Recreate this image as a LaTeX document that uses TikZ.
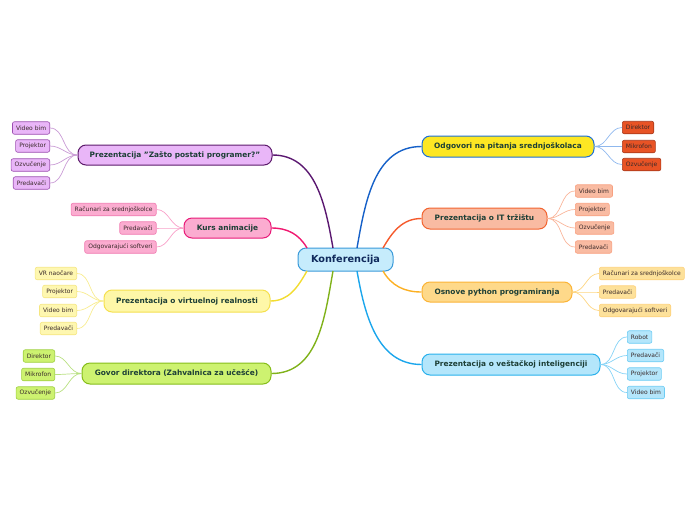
\documentclass[tikz,border=0pt]{standalone}
\usepackage{fontspec}
\setmainfont{DejaVu Sans}
\definecolor{maintext}{HTML}{1D3F36}
\definecolor{childtext}{HTML}{3A2A2A}
\definecolor{ctrfill}{HTML}{C6ECFC}\definecolor{ctrdraw}{HTML}{3A9AD9}\definecolor{ctrtext}{HTML}{102A5C}
\definecolor{rAfill}{HTML}{FDE723}\definecolor{rAdraw}{HTML}{1B6FD8}\definecolor{rAline}{HTML}{1560C8}\definecolor{rAcfill}{HTML}{E85325}\definecolor{rAcdraw}{HTML}{A8381A}\definecolor{rAcline}{HTML}{8FB8EE}
\definecolor{rBfill}{HTML}{F9BBA2}\definecolor{rBdraw}{HTML}{F26430}\definecolor{rBline}{HTML}{F55A2C}\definecolor{rBcdraw}{HTML}{F8A080}\definecolor{rBcline}{HTML}{F9B59A}
\definecolor{rCfill}{HTML}{FED98A}\definecolor{rCdraw}{HTML}{FBB437}\definecolor{rCline}{HTML}{FCB023}\definecolor{rCcfill}{HTML}{FDE19A}\definecolor{rCcdraw}{HTML}{FDD17A}\definecolor{rCcline}{HTML}{FDD580}
\definecolor{rDfill}{HTML}{B4E6FB}\definecolor{rDdraw}{HTML}{29B1EC}\definecolor{rDline}{HTML}{1BA6EC}\definecolor{rDcdraw}{HTML}{6CCCF4}\definecolor{rDcline}{HTML}{85D3F6}
\definecolor{lAfill}{HTML}{E9B6F8}\definecolor{lAdraw}{HTML}{5C1A6B}\definecolor{lAline}{HTML}{5A1770}\definecolor{lAcdraw}{HTML}{9B4FB0}\definecolor{lAcline}{HTML}{C99AD5}
\definecolor{lBfill}{HTML}{FBACD0}\definecolor{lBdraw}{HTML}{E81A78}\definecolor{lBline}{HTML}{F01870}\definecolor{lBcdraw}{HTML}{F07AB0}\definecolor{lBcline}{HTML}{F8A0C8}
\definecolor{lCfill}{HTML}{FEF7A8}\definecolor{lCdraw}{HTML}{F5E04E}\definecolor{lCline}{HTML}{F2DC30}\definecolor{lCcfill}{HTML}{FEF7B0}\definecolor{lCcdraw}{HTML}{F5E680}\definecolor{lCcline}{HTML}{F8EC90}
\definecolor{lDfill}{HTML}{CDF270}\definecolor{lDdraw}{HTML}{85BD1A}\definecolor{lDline}{HTML}{80B21A}\definecolor{lDcdraw}{HTML}{9FD040}\definecolor{lDcline}{HTML}{B8E080}
\tikzset{
  mainbox/.style={draw, line width=1pt, rounded corners=8pt, inner sep=0pt, text=maintext,
    font=\fontsize{7.4}{8}\selectfont\bfseries},
  childbox/.style={draw, line width=0.6pt, rounded corners=2pt, inner xsep=3.6pt, inner ysep=0pt,
    minimum height=12.5pt, text=childtext, font=\fontsize{6}{7}\selectfont},
  branch/.style={line width=1.4pt},
  twig/.style={line width=0.7pt},
}
\begin{document}
\begin{tikzpicture}[x=1pt,y=-1pt]
\useasboundingbox (0,0) rectangle (696,520);
% center
\node[draw=ctrdraw, fill=ctrfill, line width=1pt, rounded corners=8pt, minimum width=95pt, minimum height=23pt, inner sep=0pt, text=ctrtext, font=\fontsize{9.7}{11}\selectfont\bfseries] (c) at (345.5,259.5) {Konferencija};
\coordinate (cA) at (357,248);
\coordinate (cB) at (383,248);
\coordinate (cC) at (383,271);
\coordinate (cD) at (357,271);
\coordinate (cE) at (333,248);
\coordinate (cF) at (307,248);
\coordinate (cG) at (307,271);
\coordinate (cH) at (333,271);

% main branches
\node[mainbox, draw=rAdraw, fill=rAfill, minimum width=172pt, minimum height=21pt] (rA) at (508,146.5) {Odgovori na pitanja srednjoškolaca};
\node[mainbox, draw=rBdraw, fill=rBfill, minimum width=125pt, minimum height=21pt] (rB) at (484.5,218.5) {Prezentacija o IT tržištu};
\node[mainbox, draw=rCdraw, fill=rCfill, minimum width=150pt, minimum height=20pt] (rC) at (497,292) {Osnove python programiranja};
\node[mainbox, draw=rDdraw, fill=rDfill, minimum width=178pt, minimum height=21pt] (rD) at (511,364.5) {Prezentacija o veštačkoj inteligenciji};
\node[mainbox, draw=lAdraw, fill=lAfill, minimum width=194pt, minimum height=20pt] (lA) at (175,155) {Prezentacija "Zašto postati programer?"};
\node[mainbox, draw=lBdraw, fill=lBfill, minimum width=87pt, minimum height=20pt] (lB) at (227.5,228) {Kurs animacije};
\node[mainbox, draw=lCdraw, fill=lCfill, minimum width=166pt, minimum height=22pt] (lC) at (187,301) {Prezentacija o virtuelnoj realnosti};
\node[mainbox, draw=lDdraw, fill=lDfill, minimum width=189pt, minimum height=21pt] (lD) at (176.5,373.5) {Govor direktora (Zahvalnica za učešće)};

\draw[branch, rAline] (cA) to[out=80, in=180] (rA.west);
\draw[branch, rBline] (cB) to[out=60, in=180] (rB.west);
\draw[branch, rCline] (cC) to[out=-60, in=180] (rC.west);
\draw[branch, rDline] (cD) to[out=-80, in=180] (rD.west);
\draw[branch, lAline] (cE) to[out=100, in=0] (lA.east);
\draw[branch, lBline] (cF) to[out=120, in=0] (lB.east);
\draw[branch, lCline] (cG) to[out=-120, in=0] (lC.east);
\draw[branch, lDline] (cH) to[out=-100, in=0] (lD.east);

% right children
\begin{scope}[every node/.style={childbox, anchor=west}]
\node[fill=rAcfill, draw=rAcdraw] (rA1) at (622,127.5) {Direktor};
\node[fill=rAcfill, draw=rAcdraw] (rA2) at (622,146.5) {Mikrofon};
\node[fill=rAcfill, draw=rAcdraw] (rA3) at (622,164.5) {Ozvučenje};
\node[fill=rBfill, draw=rBcdraw] (rB1) at (575,191) {Video bim};
\node[fill=rBfill, draw=rBcdraw] (rB2) at (575,209.5) {Projektor};
\node[fill=rBfill, draw=rBcdraw] (rB3) at (575,228) {Ozvučenje};
\node[fill=rBfill, draw=rBcdraw] (rB4) at (575,247) {Predavači};
\node[fill=rCcfill, draw=rCcdraw] (rC1) at (599,273.5) {Računari za srednjoškolce};
\node[fill=rCcfill, draw=rCcdraw] (rC2) at (599,292) {Predavači};
\node[fill=rCcfill, draw=rCcdraw] (rC3) at (599,310.5) {Odgovarajući softveri};
\node[fill=rDfill, draw=rDcdraw] (rD1) at (627,337) {Robot};
\node[fill=rDfill, draw=rDcdraw] (rD2) at (627,355.5) {Predavači};
\node[fill=rDfill, draw=rDcdraw] (rD3) at (627,374) {Projektor};
\node[fill=rDfill, draw=rDcdraw] (rD4) at (627,392.5) {Video bim};
\end{scope}
% left children
\begin{scope}[every node/.style={childbox, anchor=east}]
\node[fill=lAfill, draw=lAcdraw] (lA1) at (50,128) {Video bim};
\node[fill=lAfill, draw=lAcdraw] (lA2) at (50,146) {Projektor};
\node[fill=lAfill, draw=lAcdraw] (lA3) at (50,165) {Ozvučenje};
\node[fill=lAfill, draw=lAcdraw] (lA4) at (50,183) {Predavači};
\node[fill=lBfill, draw=lBcdraw] (lB1) at (156.5,209.5) {Računari za srednjoškolce};
\node[fill=lBfill, draw=lBcdraw] (lB2) at (156.5,228) {Predavači};
\node[fill=lBfill, draw=lBcdraw] (lB3) at (156.5,247) {Odgovarajući softveri};
\node[fill=lCcfill, draw=lCcdraw] (lC1) at (77,273.5) {VR naočare};
\node[fill=lCcfill, draw=lCcdraw] (lC2) at (77,291.5) {Projektor};
\node[fill=lCcfill, draw=lCcdraw] (lC3) at (77,310.5) {Video bim};
\node[fill=lCcfill, draw=lCcdraw] (lC4) at (77,328.5) {Predavači};
\node[fill=lDfill, draw=lDcdraw] (lD1) at (55,356) {Direktor};
\node[fill=lDfill, draw=lDcdraw] (lD2) at (55,374.5) {Mikrofon};
\node[fill=lDfill, draw=lDcdraw] (lD3) at (55,393) {Ozvučenje};
\end{scope}

% twigs
\foreach \i in {1,2,3} \draw[twig, rAcline] (rA.east) to[out=0, in=180] (rA\i.west);
\foreach \i in {1,2,3,4} \draw[twig, rBcline] (rB.east) to[out=0, in=180] (rB\i.west);
\foreach \i in {1,2,3} \draw[twig, rCcline] (rC.east) to[out=0, in=180] (rC\i.west);
\foreach \i in {1,2,3,4} \draw[twig, rDcline] (rD.east) to[out=0, in=180] (rD\i.west);
\foreach \i in {1,2,3,4} \draw[twig, lAcline] (lA.west) to[out=180, in=0] (lA\i.east);
\foreach \i in {1,2,3} \draw[twig, lBcline] (lB.west) to[out=180, in=0] (lB\i.east);
\foreach \i in {1,2,3,4} \draw[twig, lCcline] (lC.west) to[out=180, in=0] (lC\i.east);
\foreach \i in {1,2,3} \draw[twig, lDcline] (lD.west) to[out=180, in=0] (lD\i.east);
\end{tikzpicture}
\end{document}
